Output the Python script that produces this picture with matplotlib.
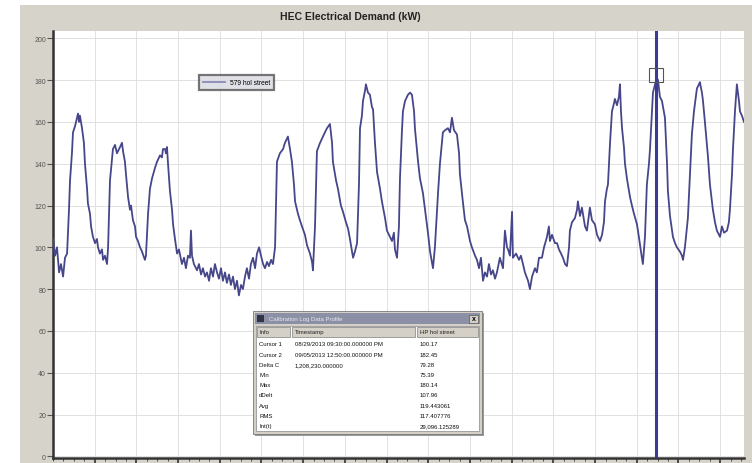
import numpy as np
import matplotlib
matplotlib.use("Agg")
import matplotlib.pyplot as plt
from matplotlib.patches import Rectangle

plt.rcParams['font.family'] = ['Liberation Sans', 'DejaVu Sans']

# time since start of record (hours) and demand (kW)
hours = [0, 1.2, 2.3, 3.5, 4.6, 5.8, 6.9, 8.1, 9.2, 9.8, 10.9, 11.5, 12.7, 13.8, 14.4, 15.0, 15.5,
         16.7, 17.8, 18.4, 19.6, 20.1, 21.3, 21.9, 23.0, 24.2, 25.3, 25.9, 27.0, 28.2, 28.8, 29.9,
         31.1, 31.7, 32.8, 34.0, 34.5, 35.7, 36.8, 37.4, 38.6, 39.7, 40.3, 41.4, 42.0, 43.2, 44.3,
         44.9, 46.0, 47.2, 47.8, 48.9, 50.1, 51.2, 52.9, 53.5, 54.7, 55.8, 57.0, 58.7, 59.9, 61.6,
         62.7, 63.3, 64.5, 65.0, 65.6, 66.2, 67.3, 68.5, 69.1, 70.2, 71.4, 72.5, 74.2, 75.4, 76.5,
         77.7, 78.8, 79.4, 80.0, 81.1, 82.9, 84.0, 85.2, 86.3, 87.5, 88.6, 89.8, 90.9, 92.1, 93.2,
         94.4, 95.5, 96.7, 97.8, 99.0, 100.1, 101.3, 102.4, 103.6, 104.7, 105.9, 107.0, 108.2,
         109.3, 110.5, 111.6, 112.8, 113.9, 115.1, 116.3, 117.4, 118.6, 119.7, 120.9, 122.0,
         123.2, 124.3, 125.5, 126.6, 127.8, 128.9, 130.6, 132.4, 133.5, 135.2, 136.4, 137.5,
         138.7, 139.3, 141.0, 142.1, 143.3, 145.0, 146.2, 147.9, 149.1, 149.6, 150.8, 151.9,
         153.7, 154.8, 156.5, 157.7, 159.4, 160.6, 161.1, 162.9, 164.0, 165.7, 166.9, 168.6,
         169.8, 170.9, 172.7, 173.8, 175.0, 176.1, 176.7, 177.8, 178.4, 179.6, 180.1, 181.3,
         182.4, 183.6, 184.2, 185.3, 186.5, 188.2, 189.3, 191.1, 192.2, 193.9, 195.1, 196.2,
         196.8, 198.0, 199.1, 199.7, 200.8, 201.4, 202.6, 204.3, 205.5, 206.6, 207.8, 208.3,
         210.1, 211.2, 212.9, 214.1, 215.8, 217.0, 218.7, 219.8, 221.6, 222.7, 224.4, 225.6,
         227.3, 228.5, 229.6, 230.8, 232.5, 233.7, 234.2, 236.0, 237.1, 238.3, 240.0, 241.1,
         242.9, 244.0, 245.2, 246.3, 247.5, 248.6, 249.8, 250.9, 252.1, 253.2, 254.4, 255.5,
         257.2, 259.0, 260.1, 261.3, 261.9, 263.0, 264.2, 264.7, 266.5, 268.2, 269.3, 270.5,
         271.6, 273.4, 274.5, 275.7, 277.4, 278.5, 279.7, 281.4, 282.6, 284.3, 285.4, 286.0,
         287.2, 288.9, 290.1, 291.2, 292.4, 293.5, 294.7, 295.8, 297.0, 297.5, 298.7, 300.4,
         301.6, 302.1, 303.3, 304.4, 305.0, 306.2, 307.3, 308.5, 309.0, 310.2, 311.9, 313.1,
         314.8, 316.0, 317.1, 317.7, 318.8, 319.4, 320.6, 321.7, 322.9, 323.4, 324.6, 325.7,
         326.3, 326.9, 327.5, 328.6, 329.2, 330.3, 332.1, 333.2, 334.4, 336.1, 337.2, 338.4,
         339.5, 340.7, 341.8, 343.0, 343.6, 344.7, 345.3, 346.5, 347.6, 348.2, 349.3, 350.5,
         351.6, 352.2, 353.4, 353.9, 355.1, 356.8, 358.0, 359.1, 360.8, 362.0, 362.6, 363.7,
         364.9, 365.4, 366.6, 367.7, 368.9, 370.6, 371.8, 372.3, 373.5, 374.1, 375.2, 377.0,
         378.1, 379.8, 381.0, 382.1, 383.9, 385.0, 386.2, 387.9, 389.0, 389.6, 390.8, 391.3,
         392.5, 393.6, 394.8, 395.4, 396.5, 397.7]
kw = [104, 96, 100, 88, 92, 86, 95, 97, 118, 132, 145, 155, 158, 162, 164, 160, 163,
      157, 150, 140, 128, 121, 116, 110, 105, 102, 104, 100, 97, 99, 94, 96,
      92, 100, 132, 143, 147, 149, 145, 146, 148, 150, 146, 141, 135, 124, 118,
      120, 113, 110, 105, 103, 100, 98, 94, 96, 116, 128, 133, 138, 141, 144,
      143, 147, 147, 145, 148, 140, 127, 118, 111, 104, 97, 99, 92, 95, 90,
      96, 95, 108, 96, 92, 89, 92, 87, 90, 86, 88, 84, 90, 86, 92,
      88, 85, 90, 84, 88, 83, 87, 82, 86, 80, 84, 77, 82,
      80, 86, 90, 85, 92, 95, 90, 97, 100, 96, 92, 90,
      93, 91, 94, 92, 100, 141, 145, 147, 150, 153, 147, 141,
      130, 122, 116, 113, 110, 106, 101, 97, 93, 89, 110, 146,
      150, 152, 155, 157, 159, 150, 141, 132, 128, 120, 117, 112,
      109, 104, 95, 98, 102, 130, 157, 163, 170, 175, 178, 174,
      173, 167, 166, 150, 136, 128, 122, 114, 108, 105, 103, 107,
      99, 95, 110, 133, 155, 165, 170, 173, 174, 173, 165, 157,
      141, 133, 126, 118, 107, 98, 90, 100, 126, 140, 155, 156,
      157, 155, 162, 156, 154, 145, 135, 121, 113, 110, 103, 100,
      96, 94, 90, 95, 84, 88, 86, 92, 87, 89, 85, 88,
      95, 90, 108, 100, 99, 96, 117, 95, 97, 94, 96, 92,
      88, 84, 80, 86, 90, 88, 95, 95, 100, 105, 110, 103,
      106, 102, 102, 99, 97, 95, 92, 91, 100, 108, 112, 114,
      118, 122, 115, 119, 116, 110, 108, 116, 119, 113, 111, 106,
      103, 106, 112, 122, 128, 130, 150, 165, 169, 171, 168, 172,
      178, 165, 157, 148, 140, 133, 124, 120, 116, 111, 105, 98,
      92, 105, 130, 140, 147, 165, 174, 178, 181, 180, 172, 170,
      165, 162, 140, 127, 115, 105, 102, 100, 98, 96, 94, 100,
      110, 114, 135, 154, 165, 176, 178, 179, 174, 170, 160, 143,
      130, 118, 112, 108, 105, 110, 107, 108, 112, 118, 135, 146,
      165, 178, 170, 165, 163, 160]

cursor_hour = 347.0
cursor_kw = 182.5
y_ticks = list(range(0, 201, 20))

dialog_title = "Calibration Log Data Profile"
dialog_cols = ["Info", "Timestamp", "HP hol street"]
dialog_info = ["Cursor 1", "Cursor 2", "Delta C", "Min", "Max", "dDelt", "Avg", "RMS", "Int(t)"]
dialog_time = ["08/29/2013 09:30:00.000000 PM", "09/05/2013 12:50:00.000000 PM",
               "1,208,230.000000", "", "", "", "", "", ""]
dialog_vals = ["100.17", "182.45", "79.28", "75.39", "180.14", "107.96",
               "119.443061", "117.407776", "29,096.125289"]

W, H = 752, 464
fig = plt.figure(figsize=(W / 100, H / 100), dpi=100, facecolor='#d6d3ca')
# white margins of the screenshot
fig.patches.append(Rectangle((0, 0), 20 / W, 1, transform=fig.transFigure,
                             facecolor='white', edgecolor='none', zorder=0))
fig.patches.append(Rectangle((0, 1 - 6 / H), 1, 6 / H, transform=fig.transFigure,
                             facecolor='white', edgecolor='none', zorder=0))

ax = fig.add_axes([53 / W, 5 / H, (744 - 53) / W, (459 - 28 - 4) / H])
ax.set_facecolor('white')
ax.plot(hours, kw, color='#46468a', linewidth=1.3, zorder=3, label='579 hol street')
ax.set_xlim(0, 397.7)
ax.set_ylim(-0.8, 203.5)

ax.set_yticks(y_ticks)
ax.set_yticklabels([str(v) for v in y_ticks])
ax.set_xticks(np.arange(24, 398, 24))
ax.set_xticks(np.arange(0, 398, 6), minor=True)
ax.tick_params(axis='y', labelsize=5, colors='#555555', length=4, width=0.8, pad=1)
ax.tick_params(axis='x', which='major', length=5, width=1.2, color='#333333', labelbottom=False)
ax.tick_params(axis='x', which='minor', length=2.5, width=0.6, color='#333333')
ax.grid(True, color='#dcdcdc', linewidth=0.6, zorder=0)
ax.set_axisbelow(True)
for s in ('top', 'right'):
    ax.spines[s].set_visible(False)
for s in ('left', 'bottom'):
    ax.spines[s].set_color('#333333')
    ax.spines[s].set_linewidth(1.8)

# cursor
ax.axvline(cursor_hour, color='#3b3b95', linewidth=2.2, zorder=4)
ax.plot([cursor_hour], [cursor_kw], marker='s', markersize=9.5, markerfacecolor='none',
        markeredgecolor='#555555', markeredgewidth=0.8, zorder=5)

leg = ax.legend(loc='center', bbox_to_anchor=(0.266, 0.879), fontsize=4.8, frameon=True,
                fancybox=False, handlelength=3.2, borderpad=0.6, handletextpad=0.8)
leg.get_frame().set_facecolor('#d9d9e2')
leg.get_frame().set_edgecolor('#555555')
leg.get_frame().set_linewidth(1.6)
leg.get_lines()[0].set_color('#8a8ab8')

fig.text(350 / W, 1 - 17 / H, "HEC Electrical Demand (kW)", ha='center', va='center',
         fontsize=7.5, fontweight='bold', color='#222222')

# overlay for the data-profile dialog
ov = fig.add_axes([0, 0, 1, 1], facecolor='none')
ov.set_xlim(0, W)
ov.set_ylim(H, 0)
ov.axis('off')
x0, y0, x1, y1 = 253, 312, 482, 435
ov.add_patch(Rectangle((x0 + 2, y0 + 2), x1 - x0, y1 - y0, facecolor='#9a9a9a', edgecolor='none'))
ov.add_patch(Rectangle((x0, y0), x1 - x0, y1 - y0, facecolor='#d4d0c8', edgecolor='#777777', linewidth=0.6))
ov.add_patch(Rectangle((x0 + 2, y0 + 2), x1 - x0 - 4, 11, facecolor='#8c90a6', edgecolor='none'))
ov.text(x0 + 16, y0 + 7.5, dialog_title, fontsize=4.3, color='#e8e8f0', va='center')
ov.add_patch(Rectangle((x0 + 4, y0 + 3.5), 7, 7, facecolor='#333344', edgecolor='none'))
ov.add_patch(Rectangle((x1 - 13, y0 + 3.5), 9, 8, facecolor='#d4d0c8', edgecolor='#555555', linewidth=0.5))
ov.text(x1 - 8.5, y0 + 7.5, "x", fontsize=5, ha='center', va='center', fontweight='bold')
ov.add_patch(Rectangle((x0 + 3, y0 + 15), x1 - x0 - 6, y1 - y0 - 18, facecolor='white',
                       edgecolor='#888888', linewidth=0.5))
col_x = [(x0 + 4, 290), (292, 415), (417, x1 - 4)]
for (cx0, cx1), name in zip(col_x, dialog_cols):
    ov.add_patch(Rectangle((cx0, y0 + 16), cx1 - cx0, 10, facecolor='#d4d0c8',
                           edgecolor='#808080', linewidth=0.5))
    ov.text(cx0 + 3, y0 + 21, name, fontsize=4.3, va='center', color='#222222')
for i in range(len(dialog_info)):
    yy = y0 + 33 + i * 10.2
    ov.text(col_x[0][0] + 2, yy, dialog_info[i], fontsize=4.3, va='center', color='#111111')
    ov.text(col_x[1][0] + 3, yy, dialog_time[i], fontsize=4.3, va='center', color='#111111')
    ov.text(col_x[2][0] + 3, yy, dialog_vals[i], fontsize=4.3, va='center', color='#111111')

fig.savefig('out.png', dpi=100, facecolor=fig.get_facecolor())
